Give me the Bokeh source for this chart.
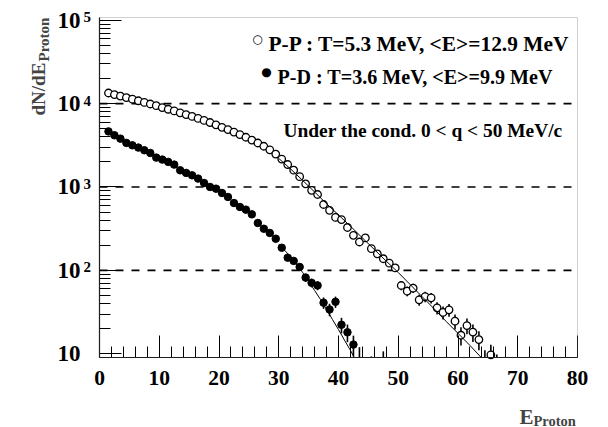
import math
from bokeh.plotting import figure
from bokeh.models import (Range1d, Label, SingleIntervalTicker, LogTicker, BoxAnnotation,
                          ColumnDataSource, CustomJSTickFormatter)
from bokeh.embed import file_html
from bokeh.resources import INLINE

# ---------------- data ----------------
# proton energy bins (MeV), P-P pairs
pp_energy = [1.5, 2.5, 3.5, 4.5, 5.5, 6.5, 7.5, 8.5, 9.5, 10.5,
             11.5, 12.5, 13.5, 14.5, 15.5, 16.5, 17.5, 18.5, 19.5, 20.5,
             21.5, 22.5, 23.5, 24.5, 25.5, 26.5, 27.5, 28.5, 29.5, 30.5,
             31.5, 32.5, 33.5, 34.5, 35.5, 36.5, 37.5, 38.5, 39.5, 40.5,
             41.5, 42.5, 43.5, 44.5, 45.5, 46.5, 47.5, 48.5, 49.5, 50.5,
             51.5, 52.5, 53.5, 54.5, 55.5, 56.5, 57.5, 58.5, 59.5, 60.5,
             61.5, 62.5, 63.5, 64.5, 65.5, 66.5]
pp_counts = [13400, 12820, 12300, 11800, 11300, 10810, 10330, 9890, 9440, 8970,
             8550, 8170, 7760, 7380, 7010, 6640, 6280, 5930, 5560, 5200,
             4880, 4550, 4250, 3950, 3650, 3370, 3080, 2790, 2480, 2160,
             1860, 1590, 1330, 1090, 912, 813, 617, 525, 432, 407,
             327, 263, 219, 245, 182, 158, 138, 122, 107, 65.9,
             56.4, 61.2, 44.4, 48.6, 46.9, 35.6, 31.3, 33.7, 24.6, 16.7,
             21.8, 18.2, 14.8, 8.0, 9.7, 7.0]
pp_errors = [116, 113, 111, 109, 106, 104, 102, 99, 97, 95,
             92, 90, 88, 86, 84, 81, 79, 77, 75, 72,
             70, 67, 65, 63, 60, 58, 56, 53, 50, 46,
             43, 40, 36, 33, 30, 29, 25, 23, 21, 20,
             18, 16, 15, 16, 13, 13, 12, 11, 10, 8.1,
             7.5, 7.8, 6.7, 7.0, 6.8, 6.0, 5.6, 5.8, 5.0, 4.1,
             4.7, 4.3, 3.8, 3.0, 3.1, 2.8]

# P-D pairs
pd_energy = [1.5, 2.5, 3.5, 4.5, 5.5, 6.5, 7.5, 8.5, 9.5, 10.5,
             11.5, 12.5, 13.5, 14.5, 15.5, 16.5, 17.5, 18.5, 19.5, 20.5,
             21.5, 22.5, 23.5, 24.5, 25.5, 26.5, 27.5, 28.5, 29.5, 30.5,
             31.5, 32.5, 33.5, 34.5, 35.5, 36.5, 37.5, 38.5, 39.5, 40.5,
             41.5, 42.5, 43.5, 45.5, 47.5]
pd_counts = [4640, 4170, 3800, 3380, 3160, 2970, 2760, 2560, 2250, 2130,
             2000, 1855, 1585, 1475, 1380, 1260, 1117, 1000, 955, 847,
             759, 643, 576, 535, 470, 370, 316, 281, 240, 187,
             142, 130, 110, 82, 71, 66, 41, 34, 42, 22.3,
             18.1, 12.9, 7.0, 5.5, 6.5]
pd_errors = [68, 65, 62, 58, 56, 54, 52, 51, 47, 46,
             45, 43, 40, 38, 37, 35, 33, 32, 31, 29,
             28, 25, 24, 23, 22, 19, 18, 17, 15, 14,
             12, 11, 10.5, 9.1, 8.4, 8.1, 6.4, 5.8, 6.5, 4.7,
             4.3, 3.6, 5.0, 3.8, 4.2]

# fitted thermal slopes over the high-energy tail
pp_fit_energy = [30, 32, 34, 36, 38, 40, 42, 44, 46, 48, 50, 52, 54, 56, 58, 60, 62, 64.5]
pp_fit_counts = [2200, 1640, 1200, 871, 631, 462, 339, 245, 178, 129,
                 94.4, 67.6, 48.4, 34.7, 24.5, 17.6, 12.6, 8.1]
pd_fit_energy = [30, 31, 32, 33, 34, 35, 36, 37, 38, 39, 40, 41, 42, 43]
pd_fit_counts = [204, 174, 145, 117.5, 94.4, 74.1, 57.5, 44.7, 33.9, 25.7,
                 19.5, 14.6, 11.0, 8.1]

y_decades = [1, 2, 3, 4, 5]
reference_levels = [1e2, 1e3, 1e4]

legend_pp = "P-P : T=5.3 MeV, <E>=12.9 MeV"
legend_pd = "P-D : T=3.6 MeV, <E>=9.9 MeV"
condition_text = "Under the cond. 0 < q < 50 MeV/c"

# ---------------- geometry ----------------
W, H = 608, 427
PAD_L, PAD_R, PAD_T, PAD_B = 99, 31, 17, 70      # room around the data box
X_MIN, X_MAX = 0.0, 80.0
Y_MIN, Y_MAX = 9.03, 1.077e5
FONT = "Liberation Serif"

# the whole canvas is the plotting frame; the data box sits inside it
px_per_e = (W - PAD_L - PAD_R) / (X_MAX - X_MIN)
lo_log, hi_log = math.log10(Y_MIN), math.log10(Y_MAX)
px_per_dec = (H - PAD_T - PAD_B) / (hi_log - lo_log)
x_range = Range1d(X_MIN - PAD_L / px_per_e, X_MAX + PAD_R / px_per_e)
y_range = Range1d(10 ** (lo_log - PAD_B / px_per_dec), 10 ** (hi_log + PAD_T / px_per_dec))


def sy(py):
    """canvas pixel row (from top) -> screen y (from bottom)"""
    return H - py


def clip_series(xs, ys, errs):
    """keep error bars and markers inside the data box"""
    mx, my, x0, y0, y1 = [], [], [], [], []
    for x, y, e in zip(xs, ys, errs):
        if y >= Y_MIN:
            mx.append(x)
            my.append(y)
        hi = y + e
        if hi > Y_MIN:
            x0.append(x)
            y0.append(max(y - e, Y_MIN))
            y1.append(hi)
    return dict(x=mx, y=my), dict(x=x0, lo=y0, hi=y1)


def clip_curve(xs, ys):
    """cut a curve where it leaves the data box at the bottom (log interpolation)"""
    ox, oy = [xs[0]], [ys[0]]
    for i in range(1, len(xs)):
        if ys[i] >= Y_MIN:
            ox.append(xs[i])
            oy.append(ys[i])
        else:
            a, b = math.log10(ys[i - 1]), math.log10(ys[i])
            t = (lo_log - a) / (b - a)
            ox.append(xs[i - 1] + t * (xs[i] - xs[i - 1]))
            oy.append(Y_MIN)
            break
    return ox, oy


p = figure(width=W, height=H, x_range=x_range, y_range=y_range, y_axis_type="log",
           output_backend="svg", toolbar_location=None,
           min_border_left=0, min_border_right=0, min_border_top=0, min_border_bottom=0)
p.grid.visible = False
p.outline_line_color = None
p.background_fill_color = "white"
p.border_fill_color = "white"

xa = p.xaxis[0]
xa.ticker = SingleIntervalTicker(interval=10, num_minor_ticks=5)
xa.fixed_location = Y_MIN
xa.bounds = (X_MIN, X_MAX)
ya = p.yaxis[0]
ya.ticker = LogTicker(num_minor_ticks=10)
ya.formatter = CustomJSTickFormatter(code="return '10'")
ya.fixed_location = X_MIN
ya.bounds = (Y_MIN, Y_MAX)
for ax in (xa, ya):
    ax.axis_line_color = "black"
    ax.axis_line_width = 1.2
    ax.major_tick_in = 22
    ax.major_tick_out = 0
    ax.minor_tick_in = 11
    ax.minor_tick_out = 0
    ax.major_tick_line_color = "black"
    ax.minor_tick_line_color = "black"
    ax.major_label_text_font = FONT
    ax.major_label_text_font_style = "bold"
    ax.major_label_text_color = "black"
xa.major_label_text_font_size = "21.5px"
ya.major_label_text_font_size = "23px"
xa.major_label_standoff = 13
ya.major_label_standoff = 19

# frame around the data box
p.add_layout(BoxAnnotation(left=X_MIN, right=X_MAX, bottom=Y_MIN, top=Y_MAX,
                           fill_color=None, line_color="#666666", line_width=1))

# dashed reference levels
p.segment(x0=[X_MIN] * len(reference_levels), x1=[X_MAX] * len(reference_levels),
          y0=reference_levels, y1=reference_levels,
          line_color="black", line_width=1.6, line_dash="8 8")

pp_pts, pp_bars = clip_series(pp_energy, pp_counts, pp_errors)
pd_pts, pd_bars = clip_series(pd_energy, pd_counts, pd_errors)

# error bars
p.segment(x0="x", y0="lo", x1="x", y1="hi", source=ColumnDataSource(pp_bars),
          line_color="black", line_width=1.6)
p.segment(x0="x", y0="lo", x1="x", y1="hi", source=ColumnDataSource(pd_bars),
          line_color="black", line_width=1.6)

# markers
p.scatter("x", "y", source=ColumnDataSource(pd_pts), size=7.5, marker="circle",
          fill_color="black", line_color="black", line_width=1)
p.scatter("x", "y", source=ColumnDataSource(pp_pts), size=7.5, marker="circle",
          fill_color="white", line_color="black", line_width=1.3)

# fit curves
fx, fy = clip_curve(pp_fit_energy, pp_fit_counts)
p.line(fx, fy, line_color="black", line_width=1)
fx, fy = clip_curve(pd_fit_energy, pd_fit_counts)
p.line(fx, fy, line_color="black", line_width=1)

# decade exponents next to the "10" tick labels
for k in y_decades:
    if k == 1:
        continue
    p.add_layout(Label(x=83, y=10 ** k, x_units="screen", y_units="data",
                       y_offset=3, text=str(k), text_font=FONT, text_font_style="bold",
                       text_font_size="15px", text_align="left",
                       text_baseline="alphabetic", text_color="black"))

# axis titles
p.add_layout(Label(x=38, y=sy(115), x_units="screen", y_units="screen",
                   angle=math.pi / 2, text="dN/dE", text_font=FONT,
                   text_font_style="bold", text_font_size="19px",
                   text_align="left", text_baseline="alphabetic"))
p.add_layout(Label(x=43, y=sy(61), x_units="screen", y_units="screen",
                   angle=math.pi / 2, text="Proton", text_font=FONT,
                   text_font_style="bold", text_font_size="15px",
                   text_align="left", text_baseline="alphabetic"))
p.add_layout(Label(x=519, y=sy(416), x_units="screen", y_units="screen",
                   text="E", text_font=FONT, text_font_style="bold",
                   text_font_size="21px", text_align="left", text_baseline="alphabetic"))
p.add_layout(Label(x=533, y=sy(420), x_units="screen", y_units="screen",
                   text="Proton", text_font=FONT, text_font_style="bold",
                   text_font_size="14.5px", text_align="left", text_baseline="alphabetic"))

# legend
p.add_layout(Label(x=257, y=sy(38), x_units="screen", y_units="screen",
                   text="\u25cb", text_font="DejaVu Sans", text_font_size="12px",
                   text_align="center", text_baseline="middle", text_color="black"))
p.add_layout(Label(x=266, y=sy(71), x_units="screen", y_units="screen",
                   text="\u25cf", text_font="DejaVu Sans", text_font_size="12px",
                   text_align="center", text_baseline="middle", text_color="black"))
for txt, xl, yb, fs in ((legend_pp, 268, 43, "21.4px"), (legend_pd, 277, 76, "20.1px"),
                        (condition_text, 283, 130, "19.4px")):
    p.add_layout(Label(x=xl, y=sy(yb), x_units="screen", y_units="screen",
                       text=txt, text_font=FONT, text_font_style="bold",
                       text_font_size=fs, text_align="left",
                       text_baseline="alphabetic", text_color="black"))

open("out.html", "w").write(file_html(p, INLINE))
